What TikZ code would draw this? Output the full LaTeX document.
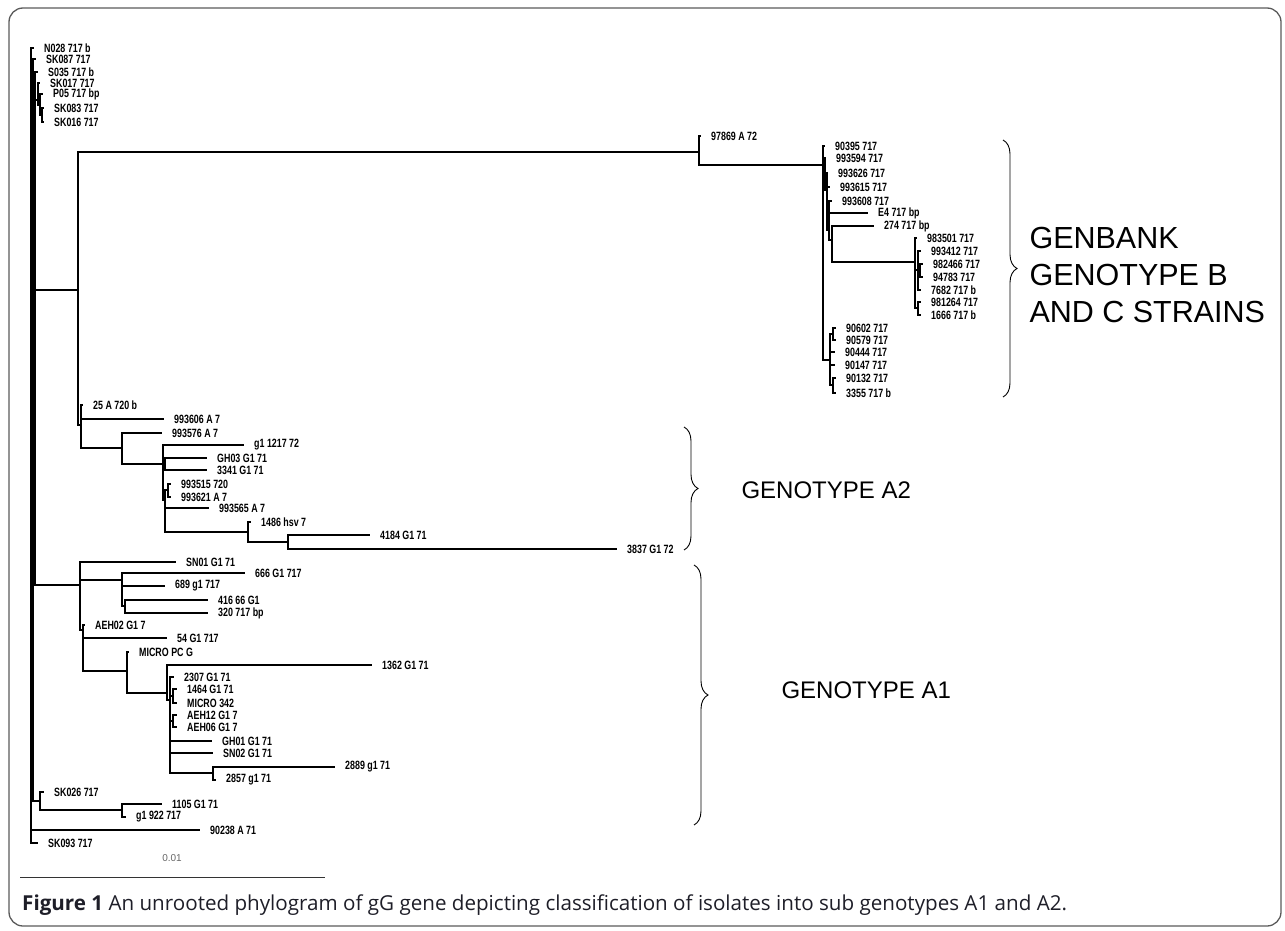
\documentclass[tikz,border=0pt]{standalone}
\usepackage{fontspec}
\setmainfont{Liberation Sans}
\newfontfamily\taxonfont[FakeStretch=0.74]{Liberation Sans}
\newfontfamily\capfont{Open Sans}
\usetikzlibrary{decorations.pathreplacing}
\definecolor{FrameGrey}{RGB}{90,90,90}
\definecolor{CaptionInk}{RGB}{30,30,40}

\begin{document}
\begin{tikzpicture}[x=1pt, y=-1pt,
  junction/.style={inner sep=0pt, minimum size=0pt},
  taxon/.style={anchor=west, inner xsep=10pt, inner ysep=0pt, font=\taxonfont\bfseries\fontsize{12}{12}\selectfont},
  branch/.style={line width=1.8pt},
  clade/.style={decorate, decoration={brace, amplitude=14pt}, line width=0.9pt},
  cladename/.style={anchor=west, align=left, font=\fontsize{30.5}{37}\selectfont}]
  \useasboundingbox (0,0) rectangle (1285,931);
  \draw[FrameGrey, line width=1.3pt, rounded corners=14pt] (9,8) rectangle (1281,926);

  \node[junction] (root) at (31,450) {};
  \node[junction] (n1) at (33,440) {};
  \node[junction] (n2) at (35,430) {};
  \node[junction] (t1) at (38,100) {};
  \node[junction] (t2) at (40,105) {};
  \node[junction] (t3) at (42,115) {};
  \node[junction] (sk26) at (40,801) {};
  \node[junction] (k2) at (122,810) {};
  \node[junction] (a) at (78,290) {};
  \node[junction] (bc) at (699,152) {};
  \node[junction] (cbc) at (823,165) {};
  \node[junction] (c1) at (825,170) {};
  \node[junction] (c2) at (827,190) {};
  \node[junction] (c3) at (829,230) {};
  \node[junction] (c4) at (832,240) {};
  \node[junction] (c6) at (915,262) {};
  \node[junction] (c6a) at (918,270) {};
  \node[junction] (c6b) at (920,270) {};
  \node[junction] (c6c) at (918,308) {};
  \node[junction] (c5) at (830,360) {};
  \node[junction] (c5a) at (833,334) {};
  \node[junction] (c5b) at (833,385) {};
  \node[junction] (a2) at (81,425) {};
  \node[junction] (a3) at (122,448) {};
  \node[junction] (a4) at (163,464) {};
  \node[junction] (a5) at (165,464) {};
  \node[junction] (a6) at (165,500) {};
  \node[junction] (a6b) at (168,490) {};
  \node[junction] (a7) at (248,532) {};
  \node[junction] (a8) at (288,542) {};
  \node[junction] (b) at (80,585) {};
  \node[junction] (b1) at (122,580) {};
  \node[junction] (b1a) at (125,606) {};
  \node[junction] (b2) at (83,630) {};
  \node[junction] (b3) at (127,671) {};
  \node[junction] (b4) at (167,693) {};
  \node[junction] (b5) at (170,700) {};
  \node[junction] (b5a) at (173,696) {};
  \node[junction] (b5b) at (173,721) {};
  \node[junction] (b7) at (213,773) {};

  \node[taxon] (n028) at (34,48) {N028 717 b};
  \node[taxon] (sk087) at (36,59) {SK087 717};
  \node[taxon] (s035) at (38,72) {S035 717 b};
  \node[taxon] (sk017) at (40,83) {SK017 717};
  \node[taxon] (p05) at (43,94) {P05 717 bp};
  \node[taxon] (sk083) at (44,108) {SK083 717};
  \node[taxon] (sk016) at (44,122) {SK016 717};
  \node[taxon] (l97869) at (701,136) {97869 A 72};
  \node[taxon] (l90395) at (825,146) {90395 717};
  \node[taxon] (l993594) at (826,158) {993594 717};
  \node[taxon] (l993626) at (828,173) {993626 717};
  \node[taxon] (l993615) at (830,187) {993615 717};
  \node[taxon] (l993608) at (832,201) {993608 717};
  \node[taxon] (e4) at (868,213) {E4 717 bp};
  \node[taxon] (l274) at (874,226) {274 717 bp};
  \node[taxon] (l983501) at (917,238) {983501 717};
  \node[taxon] (l993412) at (921,251) {993412 717};
  \node[taxon] (l982466) at (923,264) {982466 717};
  \node[taxon] (l94783) at (923,277) {94783 717};
  \node[taxon] (l7682) at (921,290) {7682 717 b};
  \node[taxon] (l981264) at (921,302) {981264 717};
  \node[taxon] (l1666) at (921,315) {1666 717 b};
  \node[taxon] (l90602) at (836,328) {90602 717};
  \node[taxon] (l90579) at (836,340) {90579 717};
  \node[taxon] (l90444) at (835,352) {90444 717};
  \node[taxon] (l90147) at (835,365) {90147 717};
  \node[taxon] (l90132) at (836,378) {90132 717};
  \node[taxon] (l3355) at (836,393) {3355 717 b};
  \node[taxon] (l25a) at (83,405) {25 A 720 b};
  \node[taxon] (l993606) at (164,419) {993606 A 7};
  \node[taxon] (l993576) at (162,433) {993576 A 7};
  \node[taxon] (g1217) at (244,445) {g1 1217 72};
  \node[taxon] (gh03) at (207,458) {GH03 G1 71};
  \node[taxon] (l3341) at (207,470) {3341 G1 71};
  \node[taxon] (l993515) at (171,484) {993515 720};
  \node[taxon] (l993621) at (171,497) {993621 A 7};
  \node[taxon] (l993565) at (209,508) {993565 A 7};
  \node[taxon] (l1486) at (251,522) {1486 hsv 7};
  \node[taxon] (l4184) at (370,535) {4184 G1 71};
  \node[taxon] (l3837) at (617,549) {3837 G1 72};
  \node[taxon] (sn01) at (176,562) {SN01 G1 71};
  \node[taxon] (l666) at (245,573) {666 G1 717};
  \node[taxon] (l689) at (165,586) {689 g1 717};
  \node[taxon] (l416) at (208,600) {416 66 G1};
  \node[taxon] (l320) at (208,613) {320 717 bp};
  \node[taxon] (aeh02) at (85,625) {AEH02 G1 7};
  \node[taxon] (l54) at (167,638) {54 G1 717};
  \node[taxon] (micropc) at (129,652) {MICRO PC G};
  \node[taxon] (l1362) at (372,665) {1362 G1 71};
  \node[taxon] (l2307) at (174,677) {2307 G1 71};
  \node[taxon] (l1464) at (177,689) {1464 G1 71};
  \node[taxon] (micro342) at (177,703) {MICRO 342};
  \node[taxon] (aeh12) at (177,715) {AEH12 G1 7};
  \node[taxon] (aeh06) at (177,727) {AEH06 G1 7};
  \node[taxon] (gh01) at (212,741) {GH01 G1 71};
  \node[taxon] (sn02) at (213,753) {SN02 G1 71};
  \node[taxon] (l2889) at (335,767) {2889 g1 71};
  \node[taxon] (l2857) at (216,780) {2857 g1 71};
  \node[taxon] (sk026) at (44,792) {SK026 717};
  \node[taxon] (l1105) at (162,804) {1105 G1 71};
  \node[taxon] (g1922) at (126,817) {g1 922 717};
  \node[taxon] (l90238) at (200,830) {90238 A 71};
  \node[taxon] (sk093) at (38,843) {SK093 717};

  \foreach \p/\c in {root/n028, root/n1, root/l90238, root/sk093,
      n1/sk087, n1/n2, n1/sk26, n2/s035, n2/t1, n2/a, n2/b,
      t1/sk017, t1/t2, t2/p05, t2/t3, t3/sk083, t3/sk016,
      sk26/sk026, sk26/k2, k2/l1105, k2/g1922,
      a/bc, a/a2, bc/l97869, bc/cbc,
      cbc/l90395, cbc/c1, cbc/c5, c1/l993594, c1/c2,
      c2/l993626, c2/l993615, c2/c3, c3/l993608, c3/e4, c3/c4,
      c4/l274, c4/c6, c6/l983501, c6/c6a, c6/c6c,
      c6a/l993412, c6a/c6b, c6a/l7682, c6b/l982466, c6b/l94783,
      c6c/l981264, c6c/l1666,
      c5/c5a, c5/l90444, c5/l90147, c5/c5b,
      c5a/l90602, c5a/l90579, c5b/l90132, c5b/l3355,
      a2/l25a, a2/l993606, a2/a3, a3/l993576, a3/a4,
      a4/g1217, a4/a5, a4/a6, a5/gh03, a5/l3341,
      a6/a6b, a6/l993565, a6/a7, a6b/l993515, a6b/l993621,
      a7/l1486, a7/a8, a8/l4184, a8/l3837,
      b/sn01, b/b1, b/b2, b1/l666, b1/l689, b1/b1a, b1a/l416, b1a/l320,
      b2/aeh02, b2/l54, b2/b3, b3/micropc, b3/b4,
      b4/l1362, b4/b5, b5/l2307, b5/b5a, b5/b5b, b5/gh01, b5/sn02, b5/b7,
      b5a/l1464, b5a/micro342, b5b/aeh12, b5b/aeh06,
      b7/l2889, b7/l2857}
    \draw[branch] (\p) |- (\c.west);

  \draw[clade] (1003,140) -- (1003,397);
  \node[cladename] (genbank) at (1026,275) {GENBANK\\GENOTYPE B\\AND C STRAINS};
  \draw[clade] (684,427) -- (684,550);
  \node[cladename, font=\fontsize{24}{28}\selectfont] (gta2) at (738,490) {GENOTYPE A2};
  \draw[clade] (694,565) -- (694,825);
  \node[cladename, font=\fontsize{24}{28}\selectfont] (gta1) at (778,690) {GENOTYPE A1};

  \coordinate (sb0) at (20,877);
  \coordinate (sb1) at (325,877);
  \draw[line width=0.9pt, black!80] (sb0) -- (sb1);
  \node[font=\fontsize{10}{11}\selectfont, text=black!60] (sblabel) at (172,858) {0.01};

  \node[anchor=west, inner sep=0pt, text=CaptionInk, font=\capfont\fontsize{20.6}{24}\selectfont] (caption) at (22,905) {\textbf{Figure 1} An unrooted phylogram of gG gene depicting classification of isolates into sub genotypes A1 and A2.};
\end{tikzpicture}
\end{document}
